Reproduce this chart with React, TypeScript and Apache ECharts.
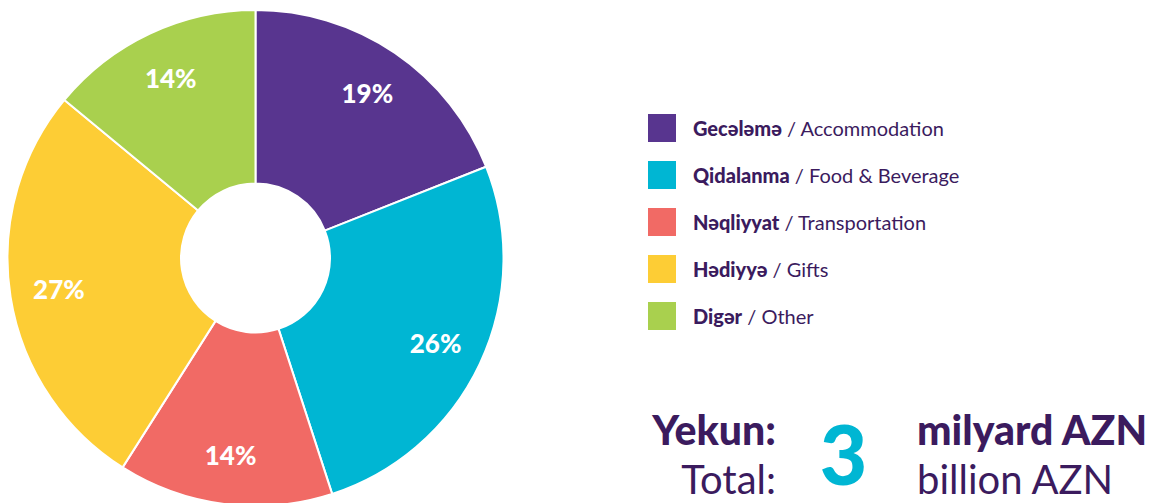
import React, { useEffect, useRef } from "react";
import * as echarts from "echarts";

const categoriesAz = ["Gecələmə", "Qidalanma", "Nəqliyyat", "Hədiyyə", "Digər"];
const categoriesEn = ["Accommodation", "Food & Beverage", "Transportation", "Gifts", "Other"];
const shares = [19, 26, 14, 27, 14];
const colors = ["#58358F", "#00B6D3", "#F16A65", "#FDCD35", "#A9D04E"];
const totalValue = "3";

const TEXT = "#3B1B5E";
const FONT = "Lato";

function txt(x: number, y: number, text: string, align: string, weight: number, size: number, fill: string) {
  return {
    type: "text",
    x,
    y,
    style: {
      text,
      align,
      verticalAlign: "middle",
      fontFamily: FONT,
      fontWeight: weight,
      fontSize: size,
      fill,
    },
  };
}

export default function App() {
  const ref = useRef<HTMLDivElement>(null);
  useEffect(() => {
    document.body.style.margin = "0";
    const chart = echarts.init(ref.current!, null, { renderer: "svg" });
    const data = categoriesAz.map((n, i) => ({
      name: n,
      value: shares[i],
      itemStyle: { color: colors[i] },
    }));
    chart.setOption({
      animation: false,
      legend: {
        orient: "vertical",
        left: 646,
        top: 112,
        padding: 0,
        itemWidth: 30,
        itemHeight: 30,
        itemGap: 15,
        icon: "rect",
        selectedMode: false,
        data: categoriesAz,
        formatter: (name: string) => {
          const i = categoriesAz.indexOf(name);
          return `{b|${name}}{r| / ${categoriesEn[i]}}`;
        },
        textStyle: {
          padding: [0, 0, 0, 11],
          rich: {
            b: { fontFamily: FONT, fontWeight: 900, fontSize: 20, color: TEXT },
            r: { fontFamily: FONT, fontWeight: 400, fontSize: 20, color: TEXT },
          },
        },
      },
      series: [
        {
          type: "pie",
          center: [255.5, 258],
          radius: [74.5, 248],
          startAngle: 90,
          clockwise: true,
          silent: true,
          label: { show: false },
          labelLine: { show: false },
          itemStyle: { borderColor: "#ffffff", borderWidth: 2 },
          data,
        },
        {
          type: "pie",
          center: [255.5, 258],
          radius: [144, 248],
          startAngle: 90,
          clockwise: true,
          silent: true,
          legendHoverLink: false,
          labelLine: { show: false },
          itemStyle: { color: "rgba(0,0,0,0)", borderWidth: 0 },
          label: {
            show: true,
            position: "inside",
            formatter: (p: any) => `${p.value}%`,
            color: "#ffffff",
            fontFamily: FONT,
            fontWeight: 900,
            fontSize: 26,
          },
          data: categoriesAz.map((n, i) => ({ name: n + " ", value: shares[i] })),
        },
      ],
      graphic: [
        txt(776, 429, "Yekun:", "right", 900, 41, TEXT),
        txt(776, 479, "Total:", "right", 400, 40, TEXT),
        txt(843.5, 453, totalValue, "center", 900, 82, "#00B6D3"),
        txt(917, 429, "milyard AZN", "left", 900, 41, TEXT),
        txt(917, 479, "billion AZN", "left", 400, 40, TEXT),
      ],
    });
    return () => chart.dispose();
  }, []);
  return <div ref={ref} style={{ width: 1159, height: 503 }} />;
}
